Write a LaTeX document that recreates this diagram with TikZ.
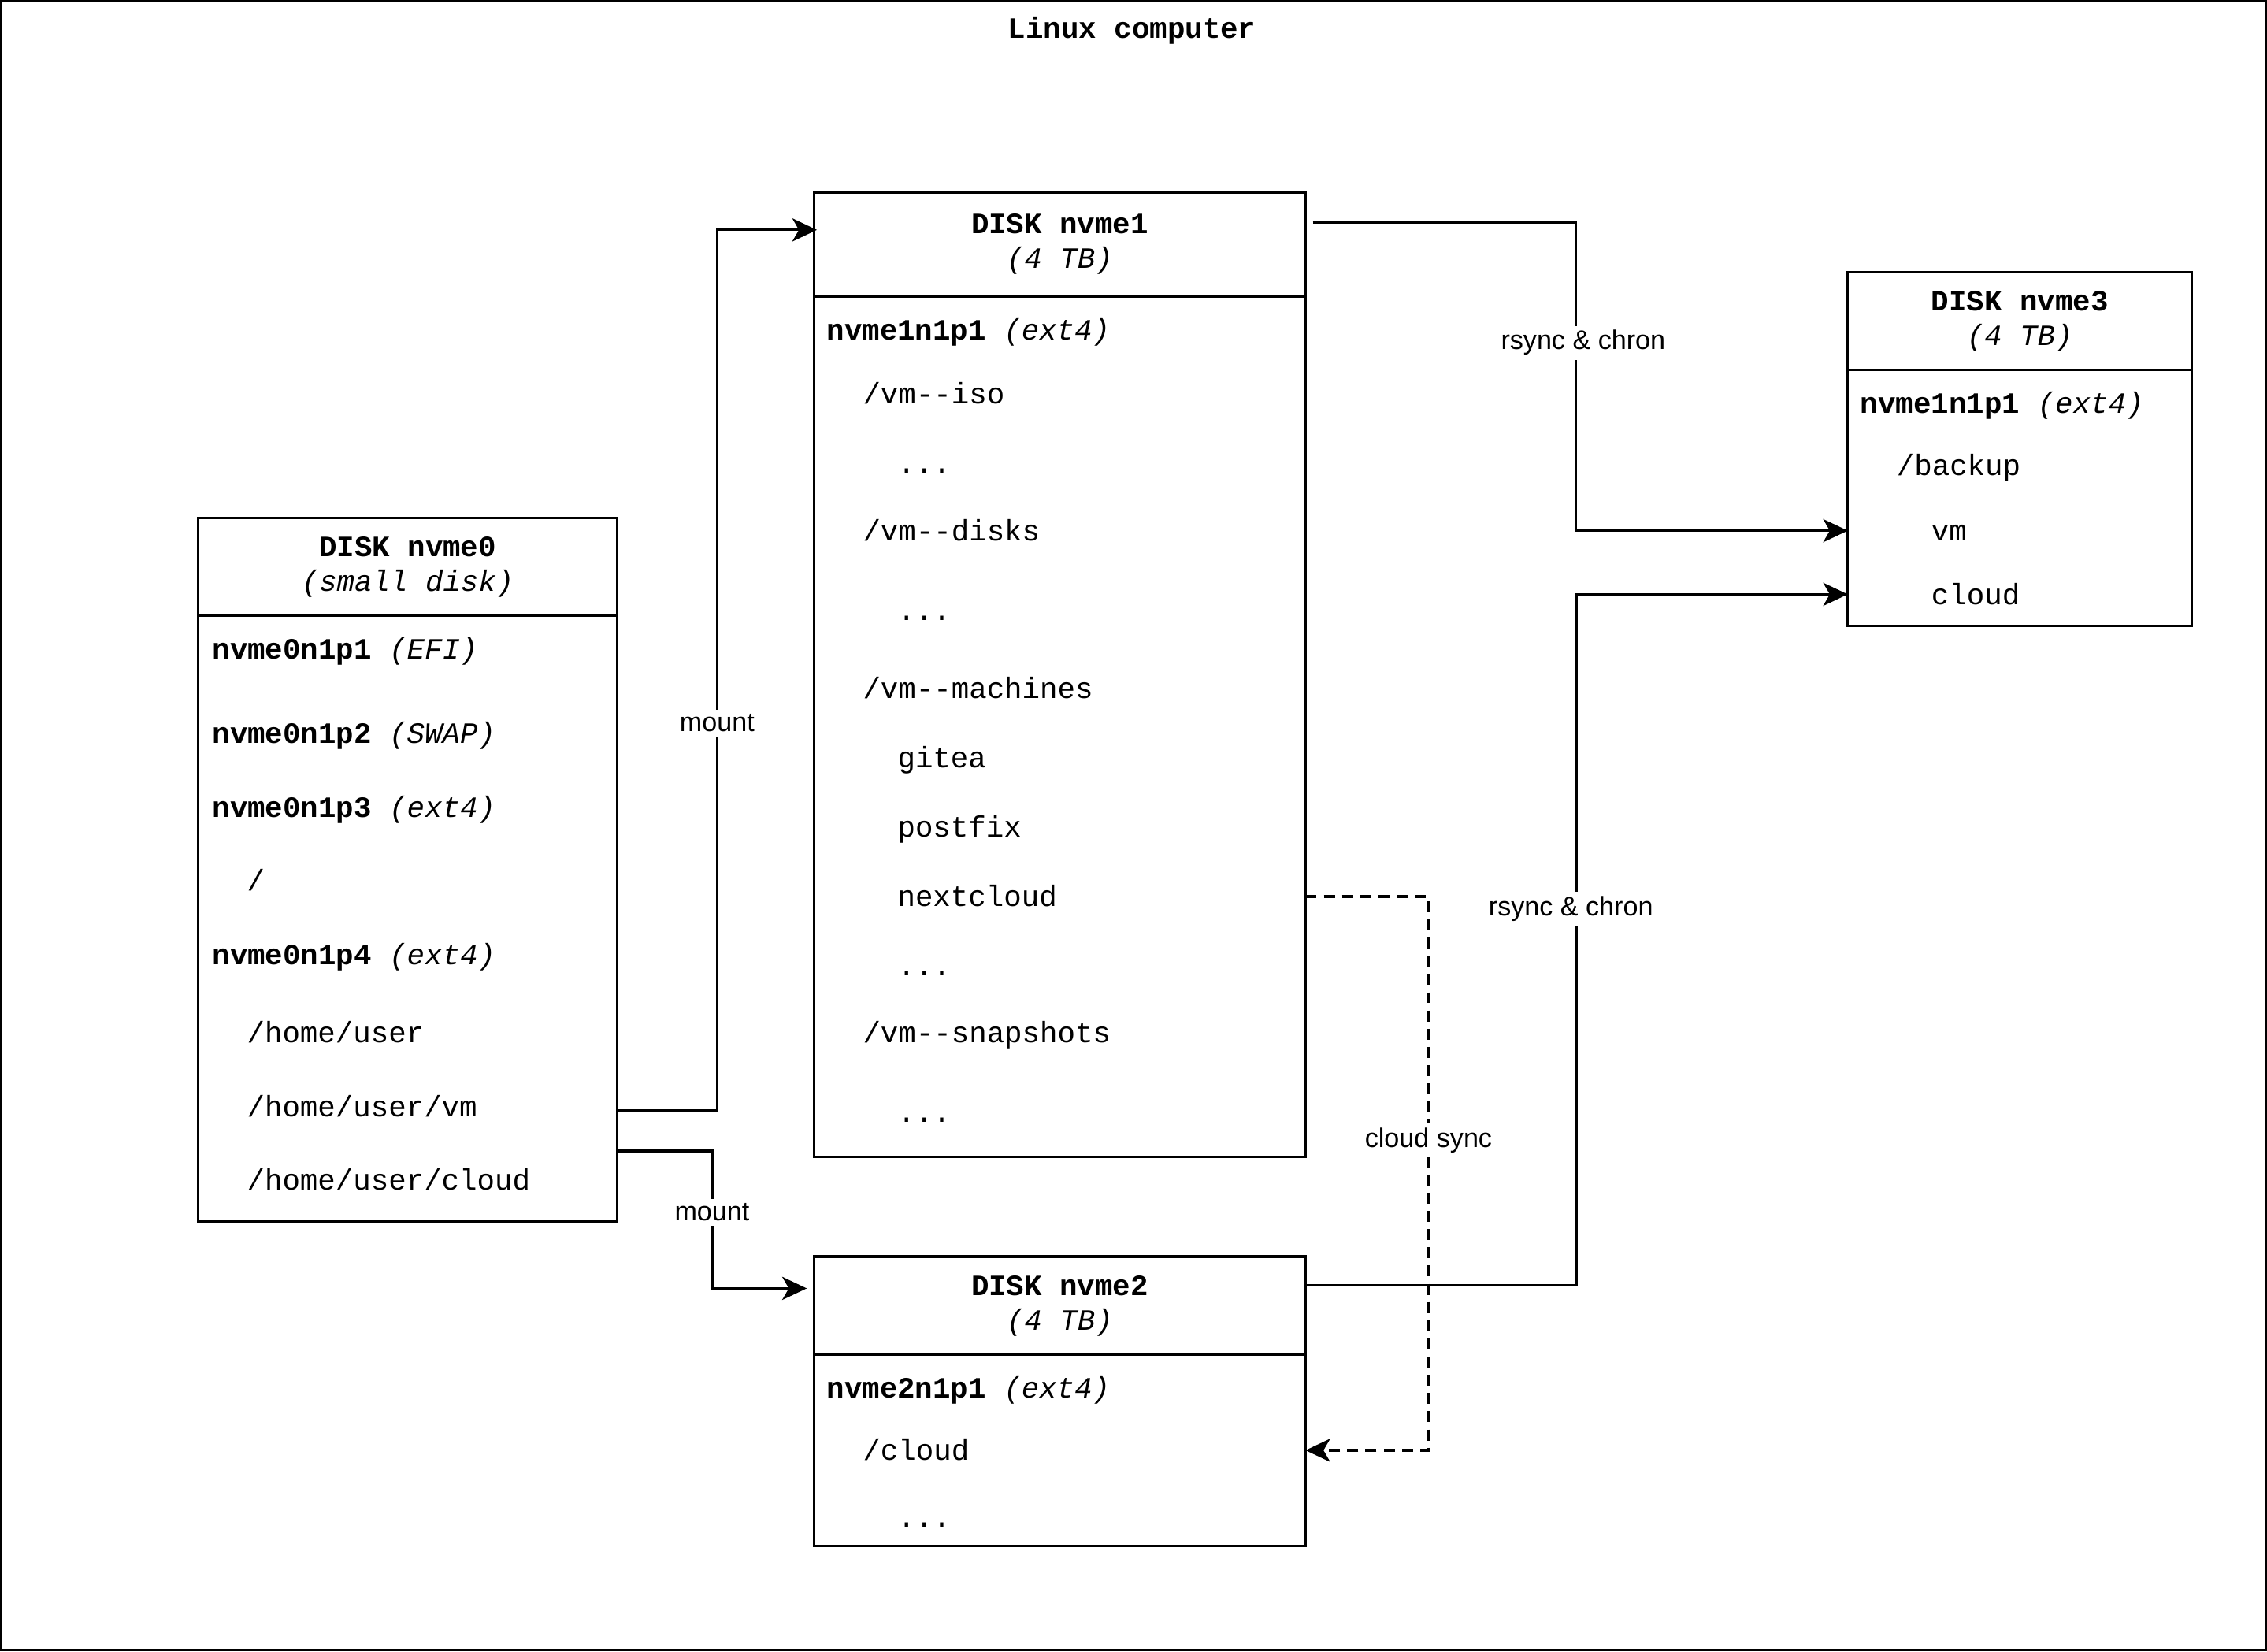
\documentclass[tikz,border=0pt]{standalone}
\usepackage{fontspec}
\setmainfont{Liberation Sans}
\setsansfont{Liberation Sans}
\setmonofont{Liberation Mono}
\usepackage{tikz}
\usetikzlibrary{arrows.meta,positioning,calc}

\begin{document}
\begin{tikzpicture}[->,>={Stealth[length=8.5pt,width=8pt,inset=2.3pt]},
x=0.5pt,y=-0.5pt,line width=0.85pt,
font=\ttfamily\fontsize{10.2pt}{12pt}\selectfont]
 \tikzset{
 	diskHead/.style={
 		rectangle,
 		draw,
 		outer sep=0pt,
 		inner sep=0pt,
 		align=center
 	},
 	diskBody/.style={
 		rectangle,
 		draw,
 		outer sep=0pt,
 		inner sep=0pt
 	},
 	entry/.style={
 		anchor=west,
 		inner sep=0pt,
 		text height=9pt,
 		text depth=2pt
 	},
 	edgeLabel/.style={
 		font=\sffamily\fontsize{9.3pt}{11pt}\selectfont,
 		fill=white,
 		inner sep=1.5pt
 	}
 }

\useasboundingbox (0,0) rectangle (1568,1142);

%--------------------------- computer frame ------------
\node[draw, inner sep=0pt, minimum width=783pt, minimum height=570pt] (PC) at (784,571) {};
\node[font=\ttfamily\bfseries\fontsize{10.2pt}{12pt}\selectfont] (TITLE) at (783,21) {Linux computer};

%--------------------------- disk nvme0 ------------
\node[diskHead, minimum width=145pt, minimum height=34pt] (D0) at (282,392)
 {\textbf{DISK nvme0}\\\textit{(small disk)}};
\node[diskBody, minimum width=145pt, minimum height=209.5pt, below=0pt of D0] (D0body) {};

\node[entry] (D0p1) at (146,449) {\textbf{nvme0n1p1} \textit{(EFI)}};
\node[entry] (D0p2) at (146,507) {\textbf{nvme0n1p2} \textit{(SWAP)}};
\node[entry] (D0p3) at (146,558) {\textbf{nvme0n1p3} \textit{(ext4)}};
\node[entry] (D0root) at (170,609) {/};
\node[entry] (D0p4) at (146,660) {\textbf{nvme0n1p4} \textit{(ext4)}};
\node[entry] (D0home) at (170,714) {/home/user};
\node[entry] (D0vm) at (170,765) {/home/user/vm};
\node[entry] (D0cloud) at (170,816) {/home/user/cloud};

%--------------------------- disk nvme1 ------------
\node[diskHead, minimum width=170pt, minimum height=36pt] (D1) at (733,169)
 {\textbf{DISK nvme1}\\\textit{(4 TB)}};
\node[diskBody, minimum width=170pt, minimum height=297.5pt, below=0pt of D1] (D1body) {};

\node[entry] (D1p1) at (571,228) {\textbf{nvme1n1p1} \textit{(ext4)}};
\node[entry] (D1iso) at (596,272) {/vm-{}-iso};
\node[entry] (D1isoMore) at (620,320) {...};
\node[entry] (D1disks) at (596,367) {/vm-{}-disks};
\node[entry] (D1disksMore) at (620,422) {...};
\node[entry] (D1mach) at (596,476) {/vm-{}-machines};
\node[entry] (D1gitea) at (620,524) {gitea};
\node[entry] (D1postfix) at (620,572) {postfix};
\node[entry] (D1next) at (620,620) {nextcloud};
\node[entry] (D1machMore) at (620,668) {...};
\node[entry] (D1snap) at (596,714) {/vm-{}-snapshots};
\node[entry] (D1snapMore) at (620,769) {...};

%--------------------------- disk nvme2 ------------
\node[diskHead, minimum width=170pt, minimum height=34pt] (D2) at (733,903)
 {\textbf{DISK nvme2}\\\textit{(4 TB)}};
\node[diskBody, minimum width=170pt, minimum height=66pt, below=0pt of D2] (D2body) {};

\node[entry] (D2p1) at (571,960) {\textbf{nvme2n1p1} \textit{(ext4)}};
\node[entry] (D2cloud) at (596,1003) {/cloud};
\node[entry] (D2more) at (620,1049) {...};

%--------------------------- disk nvme3 ------------
\node[diskHead, minimum width=119pt, minimum height=34pt] (D3) at (1397,222)
 {\textbf{DISK nvme3}\\\textit{(4 TB)}};
\node[diskBody, minimum width=119pt, minimum height=88.5pt, below=0pt of D3] (D3body) {};

\node[entry] (D3p1) at (1286,279) {\textbf{nvme1n1p1} \textit{(ext4)}};
\node[entry] (D3backup) at (1311,322) {/backup};
\node[entry] (D3vm) at (1335,367) {vm};
\node[entry] (D3cloud) at (1335,411) {cloud};

%--------------------------- connectors ------------
\coordinate (M1a) at ($(D0body.east |- D0vm)+(0,3)$);
\coordinate (M1b) at ([xshift=1pt,yshift=5pt]D1.west);
\draw[->] (M1a) -| node[edgeLabel, pos=0.94] {mount} ($(M1a)!.5!(M1b)$) |- (M1b);

\coordinate (M2a) at ($(D0body.east |- D0cloud)+(0,-20)$);
\coordinate (M2b) at ([xshift=-2.5pt,yshift=6pt]D2.west);
\draw[->] (M2a) -| ($(M2a)!.5!(M2b)$) node[edgeLabel, yshift=2.5pt] {mount} |- (M2b);

\coordinate (R1a) at ([xshift=2.5pt,yshift=7.5pt]D1.east);
\draw[->] (R1a) -| node[edgeLabel, pos=0.89, xshift=2.5pt] {rsync \& chron} ($(R1a)!.5!(D3body.west |- D3vm)+(-3,0)$) |- (D3body.west |- D3vm);

\coordinate (R2a) at ([yshift=7pt]D2.east);
\draw[->] (R2a) -| ($(R2a)!.5!(D3body.west |- D3cloud)$) |- node[edgeLabel, pos=0.045, xshift=-2pt] {rsync \& chron} (D3body.west |- D3cloud);

\draw[->, dash pattern=on 3.8pt off 2.5pt] (D1body.east |- D1next) -- ++(85,0)
 |- node[edgeLabel, pos=0.22] {cloud sync} (D2body.east |- D2cloud);

\end{tikzpicture}
\end{document}
